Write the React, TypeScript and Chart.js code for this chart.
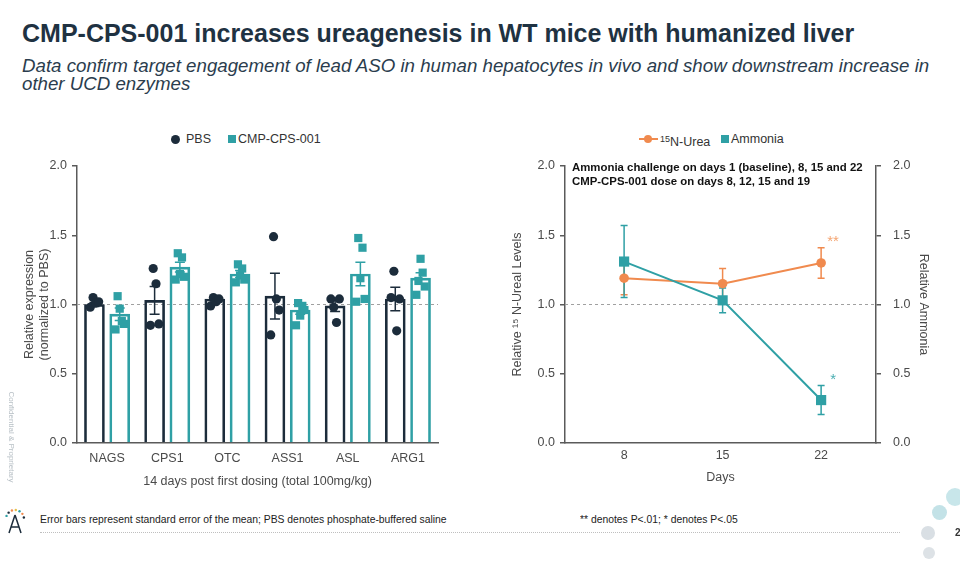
import React, { useEffect, useRef } from "react";
import { Chart, registerables } from "chart.js";

Chart.register(...registerables);

// ---------- Left chart data ----------
const genes = ["NAGS", "CPS1", "OTC", "ASS1", "ASL", "ARG1"];
const pbsMean = [1.0, 1.03, 1.04, 1.06, 0.99, 1.04];
const pbsSem = [0.015, 0.1, 0.015, 0.165, 0.04, 0.085];
const cmpMean = [0.93, 1.27, 1.22, 0.96, 1.22, 1.19];
const cmpSem = [0.045, 0.035, 0.025, 0.03, 0.085, 0.04];
const pbsPoints = [
  [0.98, 1.05, 1.01, 1.02],
  [0.85, 1.26, 1.15, 0.86],
  [0.99, 1.05, 1.02, 1.04],
  [0.78, 1.49, 1.04, 0.96],
  [1.04, 0.98, 0.87, 1.04],
  [1.05, 1.24, 0.81, 1.04],
];
const cmpPoints = [
  [0.82, 1.06, 0.97, 0.88, 0.86],
  [1.18, 1.37, 1.22, 1.34, 1.2],
  [1.16, 1.29, 1.21, 1.26, 1.18],
  [0.85, 1.01, 0.92, 0.99, 0.96],
  [1.02, 1.48, 1.19, 1.41, 1.04],
  [1.07, 1.17, 1.33, 1.23, 1.13],
];
const yTickValues = [0, 0.5, 1.0, 1.5, 2.0];

// ---------- Right chart data ----------
const days = [8, 15, 22];
const ureaMean = [1.19, 1.15, 1.3];
const ureaSem = [0.12, 0.11, 0.11];
const ureaSig = ["", "", "**"];
const ammoniaMean = [1.31, 1.03, 0.31];
const ammoniaSem = [0.26, 0.09, 0.105];
const ammoniaSig = ["", "", "*"];

// ---------- Colours ----------
const NAVY = "#1c2c3b";
const TEAL = "#2fa0a5";
const ORANGE = "#f08a4e";
const AXIS = "#5a5a5a";
const TICK = "#4a4a4a";
const FONT = '"Liberation Sans", Arial, sans-serif';

// group layout in category units (each category spans 1 unit)
const BAR_OFFSET = 0.21;
const BAR_THICKNESS = 20;

function jitter(k: number, n: number, spread: number) {
  return n > 1 ? (k / (n - 1) - 0.5) * spread : 0;
}

function dashedOne(chart: any, scaleId: string) {
  const { ctx, chartArea } = chart;
  const y = chart.scales[scaleId].getPixelForValue(1);
  ctx.save();
  ctx.strokeStyle = "#a0a0a0";
  ctx.lineWidth = 1;
  ctx.setLineDash([3, 3]);
  ctx.beginPath();
  ctx.moveTo(chartArea.left, y);
  ctx.lineTo(chartArea.right, y);
  ctx.stroke();
  ctx.restore();
}

function errorBar(ctx: any, x: number, yTop: number, yBot: number, half: number, color: string, lw: number) {
  ctx.save();
  ctx.strokeStyle = color;
  ctx.lineWidth = lw;
  ctx.beginPath();
  ctx.moveTo(x, yTop);
  ctx.lineTo(x, yBot);
  ctx.moveTo(x - half, yTop);
  ctx.lineTo(x + half, yTop);
  ctx.moveTo(x - half, yBot);
  ctx.lineTo(x + half, yBot);
  ctx.stroke();
  ctx.restore();
}

const leftPlugin = {
  id: "leftExtras",
  beforeDatasetsDraw(chart: any) {
    dashedOne(chart, "y");
    const sets = [
      { means: pbsMean, sems: pbsSem, color: NAVY },
      { means: cmpMean, sems: cmpSem, color: TEAL },
    ];
    const yS = chart.scales.y;
    sets.forEach((s, di) => {
      const meta = chart.getDatasetMeta(di);
      meta.data.forEach((el: any, i: number) => {
        errorBar(
          chart.ctx,
          el.x,
          yS.getPixelForValue(s.means[i] + s.sems[i]),
          yS.getPixelForValue(s.means[i] - s.sems[i]),
          5,
          s.color,
          1.5
        );
      });
    });
  },
};

const rightPlugin = {
  id: "rightExtras",
  beforeDatasetsDraw(chart: any) {
    dashedOne(chart, "y");
    const sets = [
      { idx: 1, means: ureaMean, sems: ureaSem, color: ORANGE },
      { idx: 0, means: ammoniaMean, sems: ammoniaSem, color: TEAL },
    ];
    sets.forEach((s) => {
      const meta = chart.getDatasetMeta(s.idx);
      const yS = meta.yScale;
      meta.data.forEach((el: any, i: number) => {
        errorBar(
          chart.ctx,
          el.x,
          yS.getPixelForValue(s.means[i] + s.sems[i]),
          yS.getPixelForValue(s.means[i] - s.sems[i]),
          3.5,
          s.color,
          1.5
        );
      });
    });
  },
  afterDatasetsDraw(chart: any) {
    const ctx = chart.ctx;
    const sets = [
      { idx: 1, means: ureaMean, sems: ureaSem, sig: ureaSig, color: "#f4a572" },
      { idx: 0, means: ammoniaMean, sems: ammoniaSem, sig: ammoniaSig, color: "#4aaeb2" },
    ];
    sets.forEach((s) => {
      const meta = chart.getDatasetMeta(s.idx);
      const yS = meta.yScale;
      meta.data.forEach((el: any, i: number) => {
        if (!s.sig[i]) return;
        ctx.save();
        ctx.fillStyle = s.color;
        ctx.font = `15px ${FONT}`;
        ctx.textAlign = "center";
        ctx.textBaseline = "middle";
        ctx.fillText(s.sig[i], el.x + 12, yS.getPixelForValue(s.means[i] + s.sems[i] + 0.065) + 3);
        ctx.restore();
      });
    });
  },
};

function yAxis(title: string | string[], width: number, position: "left" | "right", tickPad: number) {
  return {
    type: "linear",
    position,
    min: 0,
    max: 2,
    afterBuildTicks: (s: any) => {
      s.ticks = yTickValues.map((v) => ({ value: v }));
    },
    afterFit: (s: any) => {
      s.width = width;
    },
    ticks: {
      color: TICK,
      font: { family: FONT, size: 12.5 },
      padding: tickPad,
      callback: (v: any) => Number(v).toFixed(1),
    },
    grid: { display: true, drawOnChartArea: false, drawTicks: true, tickLength: 5, color: AXIS, lineWidth: 1.5 },
    border: { display: true, color: AXIS, width: 1.5 },
    title: {
      display: true,
      text: title,
      color: TICK,
      font: { family: FONT, size: 12.5, lineHeight: 1.2 },
      padding: { top: 2, bottom: 0 },
    },
  };
}

function buildLeftConfig(): any {
  const pbsScatter: any[] = [];
  const cmpScatter: any[] = [];
  genes.forEach((_, i) => {
    pbsPoints[i].forEach((v, k) =>
      pbsScatter.push({ x: i - BAR_OFFSET + jitter(k, pbsPoints[i].length, 0.14), y: v })
    );
    cmpPoints[i].forEach((v, k) =>
      cmpScatter.push({ x: i + BAR_OFFSET + jitter(k, cmpPoints[i].length, 0.14), y: v })
    );
  });
  return {
    type: "bar",
    data: {
      labels: genes,
      datasets: [
        {
          type: "bar",
          label: "PBS",
          data: genes.map((_, i) => ({ x: i - BAR_OFFSET, y: pbsMean[i] })),
          xAxisID: "xs",
          yAxisID: "y",
          grouped: false,
          barThickness: BAR_THICKNESS,
          backgroundColor: "rgba(255,255,255,0)",
          borderColor: NAVY,
          borderWidth: 2,
          order: 3,
        },
        {
          type: "bar",
          label: "CMP-CPS-001",
          data: genes.map((_, i) => ({ x: i + BAR_OFFSET, y: cmpMean[i] })),
          xAxisID: "xs",
          yAxisID: "y",
          grouped: false,
          barThickness: BAR_THICKNESS,
          backgroundColor: "rgba(255,255,255,0)",
          borderColor: TEAL,
          borderWidth: 2,
          order: 3,
        },
        {
          type: "scatter",
          label: "PBS points",
          data: pbsScatter,
          xAxisID: "xs",
          yAxisID: "y",
          pointStyle: "circle",
          pointRadius: 4.6,
          backgroundColor: NAVY,
          borderColor: NAVY,
          borderWidth: 0,
          order: 1,
        },
        {
          type: "scatter",
          label: "CMP points",
          data: cmpScatter,
          xAxisID: "xs",
          yAxisID: "y",
          pointStyle: "rect",
          pointRadius: 5.8,
          backgroundColor: TEAL,
          borderColor: TEAL,
          borderWidth: 0,
          order: 2,
        },
      ],
    },
    options: {
      animation: false,
      responsive: true,
      maintainAspectRatio: false,
      layout: { padding: { left: 20, right: 32, top: 46, bottom: 7 } },
      plugins: { legend: { display: false }, tooltip: { enabled: false } },
      scales: {
        x: {
          type: "category",
          labels: genes,
          offset: true,
          afterFit: (s: any) => {
            s.height = 50;
          },
          grid: { display: false, drawTicks: false },
          border: { display: true, color: AXIS, width: 1.5 },
          ticks: { color: TICK, font: { family: FONT, size: 12.5 }, padding: 8 },
          title: {
            display: true,
            text: "14 days post first dosing (total 100mg/kg)",
            color: TICK,
            font: { family: FONT, size: 12.5 },
            padding: { top: 0, bottom: 4 },
          },
        },
        xs: {
          type: "linear",
          display: false,
          offset: false,
          grid: { offset: false },
          min: -0.5,
          max: 5.5,
        },
        y: yAxis(["Relative expression", "(normalized to PBS)"], 57, "left", 5),
      },
    },
    plugins: [leftPlugin],
  };
}

function buildRightConfig(): any {
  return {
    type: "line",
    data: {
      datasets: [
        {
          label: "Ammonia",
          data: days.map((d, i) => ({ x: d, y: ammoniaMean[i] })),
          yAxisID: "y2",
          borderColor: TEAL,
          backgroundColor: TEAL,
          borderWidth: 2,
          pointStyle: "rect",
          pointRadius: 7.2,
          pointBorderWidth: 0,
          order: 1,
        },
        {
          label: "15N-Urea",
          data: days.map((d, i) => ({ x: d, y: ureaMean[i] })),
          yAxisID: "y",
          borderColor: ORANGE,
          backgroundColor: ORANGE,
          borderWidth: 2,
          pointStyle: "circle",
          pointRadius: 4.8,
          pointBorderWidth: 0,
          order: 2,
        },
      ],
    },
    options: {
      animation: false,
      responsive: true,
      maintainAspectRatio: false,
      layout: { padding: { left: 28, right: 27, top: 46, bottom: 7 } },
      plugins: { legend: { display: false }, tooltip: { enabled: false } },
      scales: {
        x: {
          type: "linear",
          min: 3.8,
          max: 25.9,
          afterBuildTicks: (s: any) => {
            s.ticks = days.map((d) => ({ value: d }));
          },
          afterFit: (s: any) => {
            s.height = 50;
          },
          grid: { display: false, drawTicks: false },
          border: { display: true, color: AXIS, width: 1.5 },
          ticks: { color: TICK, font: { family: FONT, size: 12.5 }, padding: 5, callback: (v: any) => String(v) },
          title: {
            display: true,
            text: "Days",
            color: TICK,
            font: { family: FONT, size: 12.5 },
            padding: { top: 0, bottom: 8 },
          },
        },
        y: yAxis("Relative \u00B9\u2075 N-Ureal Levels", 57, "left", 5),
        y2: yAxis("Relative Ammonia", 57, "right", 12),
      },
    },
    plugins: [rightPlugin],
  };
}

const abs = (s: any): React.CSSProperties => ({ position: "absolute", whiteSpace: "nowrap", ...s });

export default function App() {
  const leftRef = useRef<HTMLCanvasElement>(null);
  const rightRef = useRef<HTMLCanvasElement>(null);

  useEffect(() => {
    const c1 = new Chart(leftRef.current as HTMLCanvasElement, buildLeftConfig());
    const c2 = new Chart(rightRef.current as HTMLCanvasElement, buildRightConfig());
    return () => {
      c1.destroy();
      c2.destroy();
    };
  }, []);

  const legendText: React.CSSProperties = { fontSize: 12.5, lineHeight: "14px", color: "#333" };
  const footText: React.CSSProperties = {
    fontSize: 11.5,
    lineHeight: "12px",
    color: "#222",
    transform: "scaleX(0.9)",
    transformOrigin: "left center",
  };
  const dots = [
    { a: 200, c: "#2fa0a5" },
    { a: 225, c: "#1c2c3b" },
    { a: 250, c: "#f08a4e" },
    { a: 275, c: "#e5c04a" },
    { a: 300, c: "#2fa0a5" },
    { a: 325, c: "#f08a4e" },
    { a: 350, c: "#1c2c3b" },
  ];

  return (
    <div
      style={{
        position: "fixed",
        left: 0,
        top: 0,
        width: 960,
        height: 571,
        background: "#fff",
        overflow: "hidden",
        fontFamily: FONT,
      }}
    >
      <div style={abs({ left: 22, top: 21, fontSize: 25, lineHeight: "25px", fontWeight: 700, color: "#1f3242" })}>
        CMP-CPS-001 increases ureagenesis in WT mice with humanized liver
      </div>
      <div style={abs({ left: 22, top: 57, fontSize: 18.7, lineHeight: "18px", fontStyle: "italic", color: "#2b3d4e" })}>
        Data confirm target engagement of lead ASO in human hepatocytes in vivo and show downstream increase in
        <br />
        other UCD enzymes
      </div>

      {/* Left legend */}
      <div style={abs({ left: 171, top: 135, width: 9, height: 9, borderRadius: "50%", background: NAVY })} />
      <div style={abs({ left: 186, top: 132, ...legendText })}>PBS</div>
      <div style={abs({ left: 228, top: 135, width: 8, height: 8, background: TEAL })} />
      <div style={abs({ left: 238, top: 132, ...legendText })}>CMP-CPS-001</div>

      {/* Right legend */}
      <div style={abs({ left: 639, top: 138, width: 19, height: 2, background: ORANGE })} />
      <div style={abs({ left: 644, top: 135, width: 8, height: 8, borderRadius: "50%", background: ORANGE })} />
      <div style={abs({ left: 660, top: 132, ...legendText })}>
        <sup style={{ fontSize: 9, verticalAlign: "4px" }}>15</sup>N-Urea
      </div>
      <div style={abs({ left: 721, top: 135, width: 8, height: 8, background: TEAL })} />
      <div style={abs({ left: 731, top: 132, ...legendText })}>Ammonia</div>

      <div style={abs({ left: 0, top: 120, width: 470, height: 380 })}>
        <canvas ref={leftRef} />
      </div>
      <div style={abs({ left: 480, top: 120, width: 480, height: 380 })}>
        <canvas ref={rightRef} />
      </div>

      {/* Right chart annotation */}
      <div style={abs({ left: 572, top: 160, fontSize: 11.4, lineHeight: "14px", fontWeight: 700, color: "#111" })}>
        Ammonia challenge on days 1 (baseline), 8, 15 and 22
        <br />
        CMP-CPS-001 dose on days 8, 12, 15 and 19
      </div>

      {/* Side text */}
      <div
        style={abs({
          left: 11,
          top: 437,
          fontSize: 8,
          color: "#b8c0c6",
          transform: "translate(-50%, -50%) rotate(90deg)",
        })}
      >
        Confidential &amp; Proprietary
      </div>

      {/* Footer */}
      <svg style={{ position: "absolute", left: 3, top: 506 }} width="24" height="30" viewBox="0 0 24 30">
        {dots.map((d, i) => (
          <circle
            key={i}
            cx={12 + 9 * Math.cos((d.a * Math.PI) / 180)}
            cy={13 + 9 * Math.sin((d.a * Math.PI) / 180)}
            r={1.2}
            fill={d.c}
          />
        ))}
        <path d="M12 9 L6 27 M12 9 L18 27 M8.5 21 L15.5 21" stroke="#1c2c3b" strokeWidth="1.5" fill="none" />
      </svg>
      <div style={abs({ left: 40, top: 513, ...footText })}>
        Error bars represent standard error of the mean; PBS denotes phosphate-buffered saline
      </div>
      <div style={abs({ left: 580, top: 513, ...footText })}>** denotes P&lt;.01; * denotes P&lt;.05</div>
      <div style={abs({ left: 40, top: 532, width: 860, height: 0, borderTop: "1px dotted #bfbfbf" })} />

      {/* Decorative circles */}
      <div style={abs({ left: 946, top: 488, width: 18, height: 18, borderRadius: "50%", background: "#c8e6ea" })} />
      <div style={abs({ left: 932, top: 505, width: 15, height: 15, borderRadius: "50%", background: "#c3e2e7" })} />
      <div style={abs({ left: 921, top: 526, width: 14, height: 14, borderRadius: "50%", background: "#d9dfe4" })} />
      <div style={abs({ left: 923, top: 547, width: 12, height: 12, borderRadius: "50%", background: "#dde2e6" })} />
      <div style={abs({ left: 955, top: 527, fontSize: 10, fontWeight: 700, color: "#333" })}>2</div>
    </div>
  );
}
